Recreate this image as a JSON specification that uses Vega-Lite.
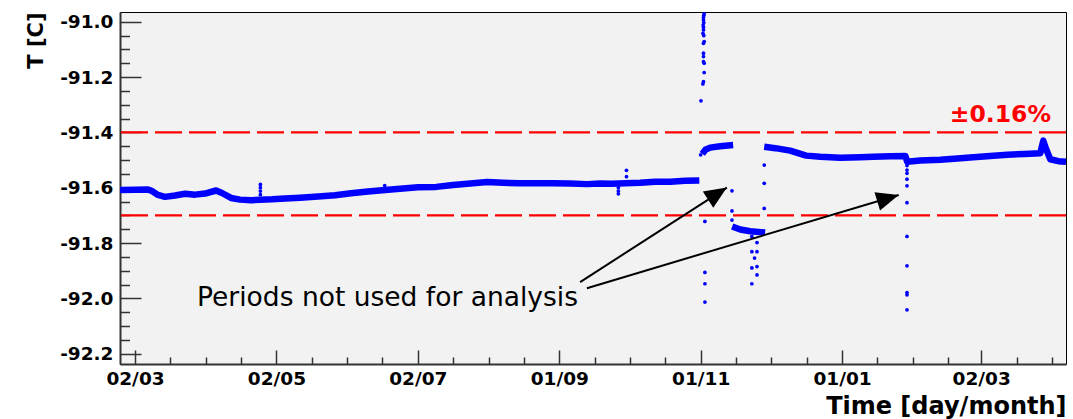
{
  "$schema": "https://vega.github.io/schema/vega-lite/v6.json",
  "autosize": "none",
  "width": 946,
  "height": 352,
  "padding": {"left": 120, "top": 12, "right": 7, "bottom": 55},
  "background": "white",
  "config": {
    "font": "DejaVu Sans",
    "view": {"fill": "#f2f2f2", "stroke": "#000000", "strokeWidth": 1}
  },
  "resolve": {"axis": {"x": "independent", "y": "independent"}},
  "layer": [
    {
      "data": {"values": [{"T": -91.4}, {"T": -91.7}]},
      "mark": {"type": "rule", "color": "#ff0000", "strokeWidth": 2.2, "strokeDash": [27, 7]},
      "encoding": {"y": {"field": "T", "type": "quantitative", "axis": null}}
    },
    {
      "data": {"values": [
        {"time": "2010-02-23T13:00Z", "T": -91.608, "seg": "A"},
        {"time": "2010-03-02T00:00Z", "T": -91.607, "seg": "A"},
        {"time": "2010-03-07T14:00Z", "T": -91.606, "seg": "A"},
        {"time": "2010-03-09T07:00Z", "T": -91.612, "seg": "A"},
        {"time": "2010-03-11T22:00Z", "T": -91.626, "seg": "A"},
        {"time": "2010-03-14T22:00Z", "T": -91.633, "seg": "A"},
        {"time": "2010-03-19T07:00Z", "T": -91.628, "seg": "A"},
        {"time": "2010-03-23T14:00Z", "T": -91.622, "seg": "A"},
        {"time": "2010-03-27T22:00Z", "T": -91.625, "seg": "A"},
        {"time": "2010-04-01T05:00Z", "T": -91.621, "seg": "A"},
        {"time": "2010-04-06T00:00Z", "T": -91.610, "seg": "A"},
        {"time": "2010-04-08T12:00Z", "T": -91.619, "seg": "A"},
        {"time": "2010-04-12T10:00Z", "T": -91.637, "seg": "A"},
        {"time": "2010-04-16T07:00Z", "T": -91.643, "seg": "A"},
        {"time": "2010-04-21T02:00Z", "T": -91.645, "seg": "A"},
        {"time": "2010-04-30T02:00Z", "T": -91.642, "seg": "A"},
        {"time": "2010-05-05T17:00Z", "T": -91.639, "seg": "A"},
        {"time": "2010-05-12T05:00Z", "T": -91.636, "seg": "A"},
        {"time": "2010-05-20T00:00Z", "T": -91.632, "seg": "A"},
        {"time": "2010-05-27T07:00Z", "T": -91.627, "seg": "A"},
        {"time": "2010-06-03T05:00Z", "T": -91.620, "seg": "A"},
        {"time": "2010-06-10T12:00Z", "T": -91.614, "seg": "A"},
        {"time": "2010-06-17T22:00Z", "T": -91.608, "seg": "A"},
        {"time": "2010-06-24T07:00Z", "T": -91.604, "seg": "A"},
        {"time": "2010-07-02T02:00Z", "T": -91.598, "seg": "A"},
        {"time": "2010-07-09T22:00Z", "T": -91.597, "seg": "A"},
        {"time": "2010-07-17T05:00Z", "T": -91.590, "seg": "A"},
        {"time": "2010-07-24T14:00Z", "T": -91.585, "seg": "A"},
        {"time": "2010-07-31T22:00Z", "T": -91.579, "seg": "A"},
        {"time": "2010-08-07T19:00Z", "T": -91.582, "seg": "A"},
        {"time": "2010-08-15T02:00Z", "T": -91.584, "seg": "A"},
        {"time": "2010-08-22T12:00Z", "T": -91.584, "seg": "A"},
        {"time": "2010-08-29T10:00Z", "T": -91.584, "seg": "A"},
        {"time": "2010-09-05T17:00Z", "T": -91.585, "seg": "A"},
        {"time": "2010-09-13T00:00Z", "T": -91.587, "seg": "A"},
        {"time": "2010-09-18T14:00Z", "T": -91.585, "seg": "A"},
        {"time": "2010-09-23T19:00Z", "T": -91.586, "seg": "A"},
        {"time": "2010-09-29T10:00Z", "T": -91.584, "seg": "A"},
        {"time": "2010-10-05T22:00Z", "T": -91.582, "seg": "A"},
        {"time": "2010-10-12T10:00Z", "T": -91.578, "seg": "A"},
        {"time": "2010-10-18T22:00Z", "T": -91.578, "seg": "A"},
        {"time": "2010-10-25T07:00Z", "T": -91.575, "seg": "A"},
        {"time": "2010-10-31T10:00Z", "T": -91.574, "seg": "A"},
        {"time": "2010-11-01T17:00Z", "T": -91.478, "seg": "B"},
        {"time": "2010-11-03T00:00Z", "T": -91.463, "seg": "B"},
        {"time": "2010-11-05T02:00Z", "T": -91.455, "seg": "B"},
        {"time": "2010-11-09T10:00Z", "T": -91.450, "seg": "B"},
        {"time": "2010-11-15T00:00Z", "T": -91.446, "seg": "B"},
        {"time": "2010-11-14T14:00Z", "T": -91.740, "seg": "C"},
        {"time": "2010-11-18T02:00Z", "T": -91.751, "seg": "C"},
        {"time": "2010-11-22T10:00Z", "T": -91.757, "seg": "C"},
        {"time": "2010-11-28T19:00Z", "T": -91.762, "seg": "C"},
        {"time": "2010-11-28T10:00Z", "T": -91.452, "seg": "D"},
        {"time": "2010-12-03T05:00Z", "T": -91.457, "seg": "D"},
        {"time": "2010-12-09T14:00Z", "T": -91.466, "seg": "D"},
        {"time": "2010-12-16T12:00Z", "T": -91.484, "seg": "D"},
        {"time": "2010-12-22T14:00Z", "T": -91.488, "seg": "D"},
        {"time": "2010-12-31T05:00Z", "T": -91.492, "seg": "D"},
        {"time": "2011-01-08T19:00Z", "T": -91.490, "seg": "D"},
        {"time": "2011-01-14T10:00Z", "T": -91.488, "seg": "D"},
        {"time": "2011-01-21T19:00Z", "T": -91.486, "seg": "D"},
        {"time": "2011-01-28T07:00Z", "T": -91.485, "seg": "D"},
        {"time": "2011-01-29T02:00Z", "T": -91.506, "seg": "D"},
        {"time": "2011-02-03T17:00Z", "T": -91.502, "seg": "D"},
        {"time": "2011-02-12T10:00Z", "T": -91.499, "seg": "D"},
        {"time": "2011-02-19T17:00Z", "T": -91.494, "seg": "D"},
        {"time": "2011-02-26T14:00Z", "T": -91.490, "seg": "D"},
        {"time": "2011-03-05T22:00Z", "T": -91.485, "seg": "D"},
        {"time": "2011-03-13T07:00Z", "T": -91.481, "seg": "D"},
        {"time": "2011-03-20T14:00Z", "T": -91.478, "seg": "D"},
        {"time": "2011-03-27T12:00Z", "T": -91.475, "seg": "D"},
        {"time": "2011-03-28T19:00Z", "T": -91.430, "seg": "D"},
        {"time": "2011-03-30T02:00Z", "T": -91.462, "seg": "D"},
        {"time": "2011-03-31T19:00Z", "T": -91.497, "seg": "D"},
        {"time": "2011-04-04T07:00Z", "T": -91.504, "seg": "D"},
        {"time": "2011-04-07T14:00Z", "T": -91.506, "seg": "D"}
      ]},
      "mark": {"type": "line", "color": "#0000ff", "strokeWidth": 6.5, "strokeJoin": "round", "clip": true},
      "encoding": {
        "x": {
          "field": "time", "type": "temporal",
          "scale": {"type": "utc", "domain": [
            {"year": 2010, "month": 2, "date": 23, "hours": 12, "minutes": 40, "utc": true},
            {"year": 2011, "month": 4, "date": 7, "hours": 14, "utc": true}
          ]},
          "axis": {
            "orient": "bottom",
            "values": [
              {"year": 2010, "month": 3, "date": 2, "utc": true},
              {"year": 2010, "month": 5, "date": 2, "utc": true},
              {"year": 2010, "month": 7, "date": 2, "utc": true},
              {"year": 2010, "month": 9, "date": 1, "utc": true},
              {"year": 2010, "month": 11, "date": 1, "utc": true},
              {"year": 2011, "month": 1, "date": 1, "utc": true},
              {"year": 2011, "month": 3, "date": 2, "utc": true}
            ],
            "format": "%d/%m",
            "grid": false,
            "labelFont": "DejaVu Sans", "labelFontWeight": "bold", "labelFontSize": 18.5, "labelColor": "#000000",
            "labelFlush": false, "labelOverlap": false, "labelBound": false,
            "tickSize": -14, "tickColor": "#333333", "tickWidth": 1.5,
            "labelPadding": 19,
            "domainColor": "#333333", "domainWidth": 2,
            "title": "Time [day/month]", "titleFont": "DejaVu Sans", "titleFontWeight": "bold", "titleFontSize": 24,
            "titleColor": "#000000", "titleAnchor": "end", "titlePadding": 7
          }
        },
        "y": {
          "field": "T", "type": "quantitative",
          "scale": {"domain": [-92.237, -90.965], "nice": false, "zero": false},
          "axis": {
            "orient": "left",
            "values": [-91.0, -91.2, -91.4, -91.6, -91.8, -92.0, -92.2],
            "labelExpr": "'-' + format(-datum.value, '.1f')",
            "grid": false,
            "labelFont": "DejaVu Sans", "labelFontWeight": "bold", "labelFontSize": 18.5, "labelColor": "#000000",
            "labelFlush": false, "labelOverlap": false, "labelBound": false,
            "tickSize": -21, "tickColor": "#333333", "tickWidth": 1.5,
            "labelPadding": 28,
            "domainColor": "#333333", "domainWidth": 2,
            "title": "T [C]", "titleFont": "DejaVu Sans", "titleFontWeight": "bold", "titleFontSize": 21,
            "titleColor": "#000000", "titleAnchor": "end", "titlePadding": 13
          }
        },
        "detail": {"field": "seg", "type": "nominal"}
      }
    },
    {
      "data": {"values": [
        {"time": "2010-04-25T02:00Z", "T": -91.588},
        {"time": "2010-04-25T02:00Z", "T": -91.600},
        {"time": "2010-04-25T02:00Z", "T": -91.612},
        {"time": "2010-04-25T02:00Z", "T": -91.625},
        {"time": "2010-06-17T17:00Z", "T": -91.592},
        {"time": "2010-09-26T12:00Z", "T": -91.600},
        {"time": "2010-09-26T12:00Z", "T": -91.612},
        {"time": "2010-09-26T12:00Z", "T": -91.622},
        {"time": "2010-09-30T00:00Z", "T": -91.537},
        {"time": "2010-09-30T00:00Z", "T": -91.560},
        {"time": "2010-11-02T12:00Z", "T": -90.972},
        {"time": "2010-11-02T08:00Z", "T": -90.978},
        {"time": "2010-11-02T05:00Z", "T": -90.985},
        {"time": "2010-11-02T05:00Z", "T": -90.994},
        {"time": "2010-11-02T08:00Z", "T": -91.003},
        {"time": "2010-11-02T02:00Z", "T": -91.012},
        {"time": "2010-11-02T05:00Z", "T": -91.020},
        {"time": "2010-11-02T05:00Z", "T": -91.030},
        {"time": "2010-11-02T00:00Z", "T": -91.042},
        {"time": "2010-11-02T08:00Z", "T": -91.050},
        {"time": "2010-11-02T12:00Z", "T": -91.072},
        {"time": "2010-11-02T05:00Z", "T": -91.078},
        {"time": "2010-11-02T05:00Z", "T": -91.114},
        {"time": "2010-11-02T05:00Z", "T": -91.126},
        {"time": "2010-11-02T05:00Z", "T": -91.144},
        {"time": "2010-11-02T12:00Z", "T": -91.150},
        {"time": "2010-11-02T12:00Z", "T": -91.184},
        {"time": "2010-11-02T05:00Z", "T": -91.217},
        {"time": "2010-11-01T23:00Z", "T": -91.225},
        {"time": "2010-11-01T03:00Z", "T": -91.286},
        {"time": "2010-11-01T00:00Z", "T": -91.481},
        {"time": "2010-11-02T20:00Z", "T": -91.722},
        {"time": "2010-11-02T20:00Z", "T": -91.906},
        {"time": "2010-11-02T20:00Z", "T": -91.947},
        {"time": "2010-11-02T20:00Z", "T": -92.013},
        {"time": "2010-11-14T12:00Z", "T": -91.611},
        {"time": "2010-11-14T12:00Z", "T": -91.684},
        {"time": "2010-11-14T12:00Z", "T": -91.717},
        {"time": "2010-11-23T02:00Z", "T": -91.776},
        {"time": "2010-11-23T02:00Z", "T": -91.831},
        {"time": "2010-11-23T02:00Z", "T": -91.890},
        {"time": "2010-11-23T02:00Z", "T": -91.947},
        {"time": "2010-11-25T07:00Z", "T": -91.798},
        {"time": "2010-11-25T07:00Z", "T": -91.831},
        {"time": "2010-11-25T07:00Z", "T": -91.885},
        {"time": "2010-11-25T07:00Z", "T": -91.915},
        {"time": "2010-11-24T06:00Z", "T": -91.854},
        {"time": "2010-11-28T10:00Z", "T": -91.518},
        {"time": "2010-11-28T10:00Z", "T": -91.584},
        {"time": "2010-11-28T10:00Z", "T": -91.675},
        {"time": "2011-01-29T00:00Z", "T": -91.520},
        {"time": "2011-01-29T00:00Z", "T": -91.536},
        {"time": "2011-01-29T00:00Z", "T": -91.548},
        {"time": "2011-01-29T00:00Z", "T": -91.569},
        {"time": "2011-01-29T00:00Z", "T": -91.593},
        {"time": "2011-01-29T00:00Z", "T": -91.654},
        {"time": "2011-01-29T00:00Z", "T": -91.776},
        {"time": "2011-01-29T00:00Z", "T": -91.882},
        {"time": "2011-01-29T00:00Z", "T": -91.979},
        {"time": "2011-01-29T00:00Z", "T": -91.987},
        {"time": "2011-01-29T00:00Z", "T": -92.041}
      ]},
      "mark": {"type": "point", "shape": "circle", "filled": true, "size": 14, "color": "#0000ff", "opacity": 1, "clip": true},
      "encoding": {
        "x": {
          "field": "time", "type": "temporal",
          "axis": {
            "orient": "bottom",
            "values": [
              {"year": 2010, "month": 3, "date": 17, "hours": 6, "utc": true},
              {"year": 2010, "month": 4, "date": 1, "hours": 12, "utc": true},
              {"year": 2010, "month": 4, "date": 16, "hours": 18, "utc": true},
              {"year": 2010, "month": 5, "date": 17, "hours": 6, "utc": true},
              {"year": 2010, "month": 6, "date": 1, "hours": 12, "utc": true},
              {"year": 2010, "month": 6, "date": 16, "hours": 18, "utc": true},
              {"year": 2010, "month": 7, "date": 17, "hours": 6, "utc": true},
              {"year": 2010, "month": 8, "date": 1, "hours": 12, "utc": true},
              {"year": 2010, "month": 8, "date": 16, "hours": 18, "utc": true},
              {"year": 2010, "month": 9, "date": 16, "hours": 6, "utc": true},
              {"year": 2010, "month": 10, "date": 1, "hours": 12, "utc": true},
              {"year": 2010, "month": 10, "date": 16, "hours": 18, "utc": true},
              {"year": 2010, "month": 11, "date": 16, "hours": 6, "utc": true},
              {"year": 2010, "month": 12, "date": 1, "hours": 12, "utc": true},
              {"year": 2010, "month": 12, "date": 16, "hours": 18, "utc": true},
              {"year": 2011, "month": 1, "date": 16, "hours": 6, "utc": true},
              {"year": 2011, "month": 1, "date": 31, "hours": 12, "utc": true},
              {"year": 2011, "month": 2, "date": 15, "hours": 18, "utc": true},
              {"year": 2011, "month": 3, "date": 17, "hours": 6, "utc": true},
              {"year": 2011, "month": 4, "date": 1, "hours": 12, "utc": true}
            ],
            "labels": false, "domain": false, "grid": false, "title": null,
            "tickSize": -7, "tickColor": "#333333", "tickWidth": 1.5
          }
        },
        "y": {
          "field": "T", "type": "quantitative",
          "axis": {
            "orient": "left",
            "values": [-91.05, -91.1, -91.15, -91.25, -91.3, -91.35, -91.45, -91.5, -91.55, -91.65, -91.7, -91.75, -91.85, -91.9, -91.95, -92.05, -92.1, -92.15],
            "labels": false, "domain": false, "grid": false, "title": null,
            "tickSize": -9.5, "tickColor": "#333333", "tickWidth": 1.5
          }
        }
      }
    },
    {
      "data": {"values": [
        {"time": "2010-09-10T00:00Z", "T": -91.941, "arrow": "a1"},
        {"time": "2010-11-12T07:00Z", "T": -91.5995, "arrow": "a1"},
        {"time": "2010-09-12T22:00Z", "T": -91.963, "arrow": "a2"},
        {"time": "2011-01-25T10:00Z", "T": -91.626, "arrow": "a2"}
      ]},
      "mark": {"type": "line", "color": "#000000", "strokeWidth": 2},
      "encoding": {
        "x": {"field": "time", "type": "temporal", "axis": null},
        "y": {"field": "T", "type": "quantitative", "axis": null},
        "detail": {"field": "arrow", "type": "nominal"}
      }
    },
    {
      "data": {"values": [{"time": "2010-11-12T07:00Z", "T": -91.5995}]},
      "mark": {"type": "point", "shape": "M0,0L-1,-0.43L-1,0.43Z", "size": 2000, "filled": true, "color": "#000000", "opacity": 1, "strokeWidth": 0, "angle": -32.8},
      "encoding": {
        "x": {"field": "time", "type": "temporal", "axis": null},
        "y": {"field": "T", "type": "quantitative", "axis": null}
      }
    },
    {
      "data": {"values": [{"time": "2011-01-25T10:00Z", "T": -91.626}]},
      "mark": {"type": "point", "shape": "M0,0L-1,-0.43L-1,0.43Z", "size": 2000, "filled": true, "color": "#000000", "opacity": 1, "strokeWidth": 0, "angle": -16.7},
      "encoding": {
        "x": {"field": "time", "type": "temporal", "axis": null},
        "y": {"field": "T", "type": "quantitative", "axis": null}
      }
    },
    {
      "data": {"values": [{"time": "2010-03-28T18:00Z", "T": -92.027, "label": "Periods not used for analysis"}]},
      "mark": {"type": "text", "align": "left", "baseline": "alphabetic", "font": "DejaVu Sans", "fontSize": 26.5, "color": "#000000"},
      "encoding": {
        "x": {"field": "time", "type": "temporal", "axis": null},
        "y": {"field": "T", "type": "quantitative", "axis": null},
        "text": {"field": "label"}
      }
    },
    {
      "data": {"values": [{"time": "2011-04-01T02:00Z", "T": -91.361, "label": "±0.16%"}]},
      "mark": {"type": "text", "align": "right", "baseline": "alphabetic", "font": "DejaVu Sans", "fontWeight": "bold", "fontSize": 23.5, "color": "#ff0000"},
      "encoding": {
        "x": {"field": "time", "type": "temporal", "axis": null},
        "y": {"field": "T", "type": "quantitative", "axis": null},
        "text": {"field": "label"}
      }
    }
  ]
}
